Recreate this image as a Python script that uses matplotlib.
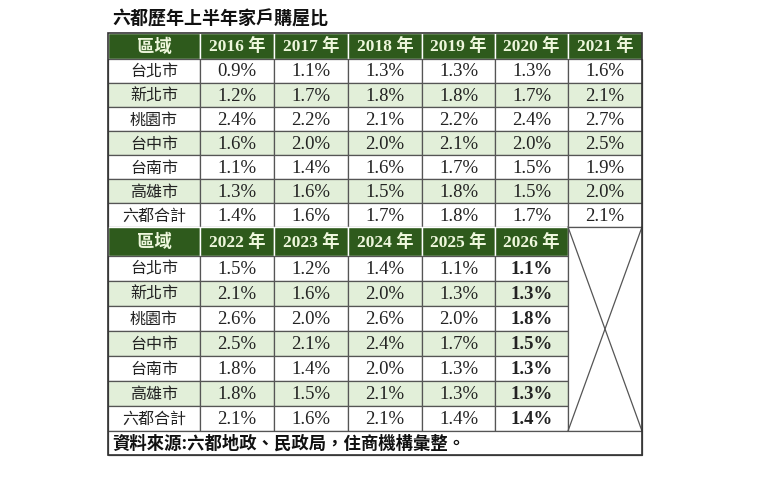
import matplotlib.pyplot as plt
from matplotlib.patches import Rectangle

plt.rcParams['font.family'] = ['Liberation Serif', 'Noto Sans CJK TC']

# Data
title = '六都歷年上半年家戶購屋比'
source = '資料來源:六都地政、民政局，住商機構彙整。'
regions = ['台北市', '新北市', '桃園市', '台中市', '台南市', '高雄市', '六都合計']
years_top = ['2016 年', '2017 年', '2018 年', '2019 年', '2020 年', '2021 年']
years_bottom = ['2022 年', '2023 年', '2024 年', '2025 年', '2026 年']
values_top = [
    ['0.9%', '1.1%', '1.3%', '1.3%', '1.3%', '1.6%'],
    ['1.2%', '1.7%', '1.8%', '1.8%', '1.7%', '2.1%'],
    ['2.4%', '2.2%', '2.1%', '2.2%', '2.4%', '2.7%'],
    ['1.6%', '2.0%', '2.0%', '2.1%', '2.0%', '2.5%'],
    ['1.1%', '1.4%', '1.6%', '1.7%', '1.5%', '1.9%'],
    ['1.3%', '1.6%', '1.5%', '1.8%', '1.5%', '2.0%'],
    ['1.4%', '1.6%', '1.7%', '1.8%', '1.7%', '2.1%'],
]
values_bottom = [
    ['1.5%', '1.2%', '1.4%', '1.1%', '1.1%'],
    ['2.1%', '1.6%', '2.0%', '1.3%', '1.3%'],
    ['2.6%', '2.0%', '2.6%', '2.0%', '1.8%'],
    ['2.5%', '2.1%', '2.4%', '1.7%', '1.5%'],
    ['1.8%', '1.4%', '2.0%', '1.3%', '1.3%'],
    ['1.8%', '1.5%', '2.1%', '1.3%', '1.3%'],
    ['2.1%', '1.6%', '2.1%', '1.4%', '1.4%'],
]

# Layout (pixels)
col_edges = [108, 200, 274, 348, 422, 495, 568, 642]
top_block = (33, 59, 24.0)     # header top, header bottom, row height
bottom_block = (227, 256, 25.0)
source_row = (431, 455)

dark_green = '#2e5a1c'
light_green = '#e2efd9'
header_text = '#eef7dc'
line_c = '#555555'

fig = plt.figure(figsize=(7.6, 4.86), dpi=100)
ax = fig.add_axes([0, 0, 1, 1])
ax.set_xlim(0, 760)
ax.set_ylim(486, 0)
ax.axis('off')

ax.text(112, 19, title, fontsize=13, fontweight='bold', ha='left', va='center',
        family=['Noto Sans CJK TC'], color='#111111')


def draw_block(block, years, values, bold_last=False):
    h_top, h_bot, rh = block
    ncol = len(years) + 1
    # header
    for c in range(ncol):
        x0, x1 = col_edges[c], col_edges[c + 1]
        ax.add_patch(Rectangle((x0, h_top), x1 - x0, h_bot - h_top, facecolor=dark_green,
                               edgecolor='white', lw=1.0, zorder=1))
        label = '區域' if c == 0 else years[c - 1]
        ax.text((x0 + x1) / 2, (h_top + h_bot) / 2 + 1, label, fontsize=12.5, fontweight='bold',
                color=header_text, ha='center', va='center', zorder=3)
    # rows
    for r, reg in enumerate(regions):
        y0 = h_bot + r * rh
        fc = light_green if r % 2 == 1 else 'white'
        for c in range(ncol):
            x0, x1 = col_edges[c], col_edges[c + 1]
            ax.add_patch(Rectangle((x0, y0), x1 - x0, rh, facecolor=fc,
                                   edgecolor=line_c, lw=0.9, zorder=1))
            if c == 0:
                ax.text((x0 + x1) / 2, y0 + rh / 2 + 1, reg, fontsize=11.5, color='#222222',
                        ha='center', va='center', family=['Noto Sans CJK TC'], zorder=3)
            else:
                bold = bold_last and c == ncol - 1
                ax.text((x0 + x1) / 2, y0 + rh / 2 + 1, values[r][c - 1], fontsize=13.5,
                        color='#222222', ha='center', va='center',
                        fontweight='bold' if bold else 'normal', zorder=3)
    return h_bot + len(regions) * rh


draw_block(top_block, years_top, values_top)
end_y = draw_block(bottom_block, years_bottom, values_bottom, bold_last=True)

# crossed empty cell
bx0, bx1 = col_edges[-2], col_edges[-1]
by0, by1 = bottom_block[0], end_y
ax.add_patch(Rectangle((bx0, by0), bx1 - bx0, by1 - by0, facecolor='white',
                       edgecolor=line_c, lw=0.9, zorder=2))
ax.plot([bx0, bx1], [by0, by1], color=line_c, lw=0.9, zorder=3)
ax.plot([bx0, bx1], [by1, by0], color=line_c, lw=0.9, zorder=3)

# source row
ax.add_patch(Rectangle((col_edges[0], source_row[0]), col_edges[-1] - col_edges[0],
                       source_row[1] - source_row[0], facecolor='white',
                       edgecolor=line_c, lw=0.9, zorder=2))
ax.text(col_edges[0] + 4, (source_row[0] + source_row[1]) / 2 + 1, source, fontsize=12.5,
        fontweight='bold', ha='left', va='center', family=['Noto Sans CJK TC'],
        color='#111111', zorder=3)

# outer border
ax.add_patch(Rectangle((col_edges[0], top_block[0]), col_edges[-1] - col_edges[0],
                       source_row[1] - top_block[0], facecolor='none',
                       edgecolor='#333333', lw=1.2, zorder=4))

fig.savefig('out.png', dpi=100)
